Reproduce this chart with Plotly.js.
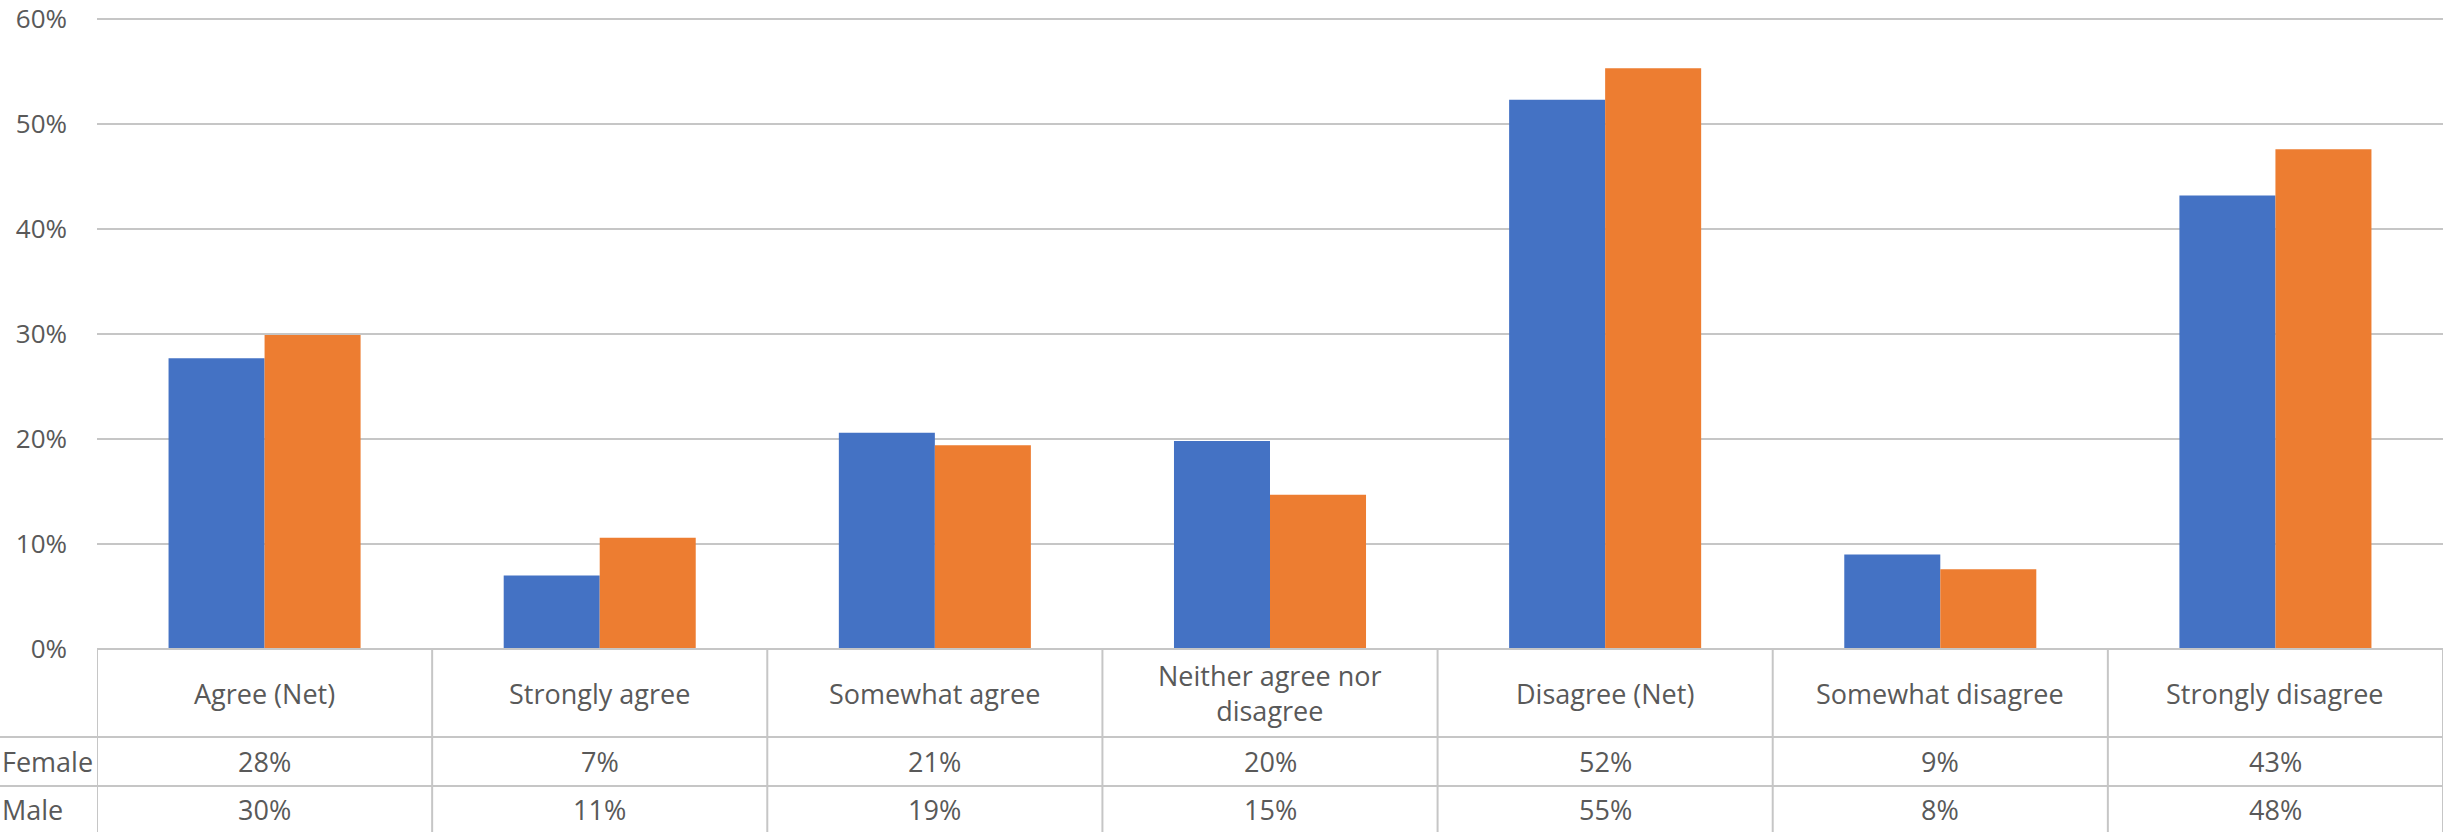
<!DOCTYPE html>
<html>
<head>
<meta charset="utf-8">
<script src="https://cdn.plot.ly/plotly-3.0.1.min.js"></script>
<style>
  html, body { margin: 0; padding: 0; background: #ffffff; }
  #chart { width: 2443px; height: 832px; }
</style>
</head>
<body>
<div id="chart"></div>
<script>
// ---- Data ----
const categories = ['Agree (Net)', 'Strongly agree', 'Somewhat agree', 'Neither agree nor disagree', 'Disagree (Net)', 'Somewhat disagree', 'Strongly disagree'];
const categoryLabels = ['Agree (Net)', 'Strongly agree', 'Somewhat agree', 'Neither agree nor<br>disagree', 'Disagree (Net)', 'Somewhat disagree', 'Strongly disagree'];
const seriesNames = ['Female', 'Male'];
const female = [0.277, 0.070, 0.206, 0.198, 0.523, 0.090, 0.432];
const male   = [0.299, 0.106, 0.194, 0.147, 0.553, 0.076, 0.476];
const yTickValues = [0, 0.1, 0.2, 0.3, 0.4, 0.5, 0.6];

// ---- Style ----
const COLORS = ['#4472C4', '#ED7D31'];
const TEXT = '#595959';
const GRID = '#c6c6c6';
const FONT = 'Open Sans, Noto Sans, sans-serif';
const FS = 27;
const TICK_FS = 26;

const W = 2443, H = 832;
const M = {l: 97, r: 0, t: 13, b: 183};
const plotH = H - M.t - M.b;            // 60% sits 6 px below the plot top
const plotW = W - M.l - M.r;
const yTop = 0.6 * plotH / (plotH - 6);
const px2py = p => -(p) / plotH;          // pixels below the x axis -> paper y
const px2px = p => (p - M.l) / plotW;     // absolute pixel x -> paper x

const seriesValues = [female, male];
const traces = seriesNames.map((name, s) => ({
  type: 'bar',
  name: name,
  x: categories,
  y: seriesValues[s],
  marker: {color: COLORS[s], line: {width: 0}},
  hoverinfo: 'x+y+name'
}));

// Table rows (pixel offsets below the x axis)
const headerMid = px2py(44);
const rowMid = [px2py(112.5), px2py(161)];
const rowTop = [px2py(88), px2py(137)];
const tableBottom = px2py(200);

const shapes = [];
const lineStyle = {color: GRID, width: 2};
// vertical cell borders at category boundaries
for (let i = 0; i <= categories.length; i++) {
  shapes.push({type: 'line', xref: 'x', yref: 'paper', x0: i - 0.5, x1: i - 0.5, y0: 0, y1: tableBottom, line: lineStyle, layer: 'above'});
}
// horizontal row borders (across the row-label column too)
rowTop.forEach(y => {
  shapes.push({type: 'line', xref: 'paper', yref: 'paper', x0: px2px(0), x1: 1.01, y0: y, y1: y, line: lineStyle});
});
// top border of table (axis line)
shapes.push({type: 'line', xref: 'paper', yref: 'paper', x0: 0, x1: 1.01, y0: 0, y1: 0, line: lineStyle});

const annotations = [];
categories.forEach((c, i) => {
  annotations.push({
    xref: 'x', yref: 'paper', x: c, y: headerMid, text: categoryLabels[i],
    showarrow: false, xanchor: 'center', yanchor: 'middle', align: 'center',
    font: {family: FONT, size: FS, color: TEXT}
  });
  seriesValues.forEach((vals, s) => {
    annotations.push({
      xref: 'x', yref: 'paper', x: c, y: rowMid[s], text: Math.round(vals[i] * 100) + '%',
      showarrow: false, xanchor: 'center', yanchor: 'middle',
      font: {family: FONT, size: FS, color: TEXT}
    });
  });
});
seriesNames.forEach((n, s) => {
  annotations.push({
    xref: 'paper', yref: 'paper', x: px2px(0), y: rowMid[s], text: n,
    showarrow: false, xanchor: 'left', yanchor: 'middle',
    font: {family: FONT, size: FS, color: TEXT}
  });
});

const layout = {
  width: W, height: H,
  margin: M,
  paper_bgcolor: '#ffffff', plot_bgcolor: '#ffffff',
  font: {family: FONT, size: FS, color: TEXT},
  showlegend: false,
  barmode: 'group',
  bargap: 0.427,
  bargroupgap: 0,
  xaxis: {
    type: 'category',
    showticklabels: false, ticks: '', showline: false, showgrid: false, zeroline: false,
    range: [-0.5, categories.length - 0.5], fixedrange: true
  },
  yaxis: {
    range: [0, yTop], tickvals: yTickValues, tickformat: '.0%',
    showgrid: true, gridcolor: GRID, gridwidth: 2,
    zeroline: false, showline: false, ticks: '',
    ticklabelstandoff: 29,
    ticklabeloverflow: 'allow',
    tickfont: {family: FONT, size: TICK_FS, color: TEXT},
    fixedrange: true
  },
  shapes: shapes,
  annotations: annotations
};

Plotly.newPlot('chart', traces, layout, {displayModeBar: false, staticPlot: true});
</script>
</body>
</html>
